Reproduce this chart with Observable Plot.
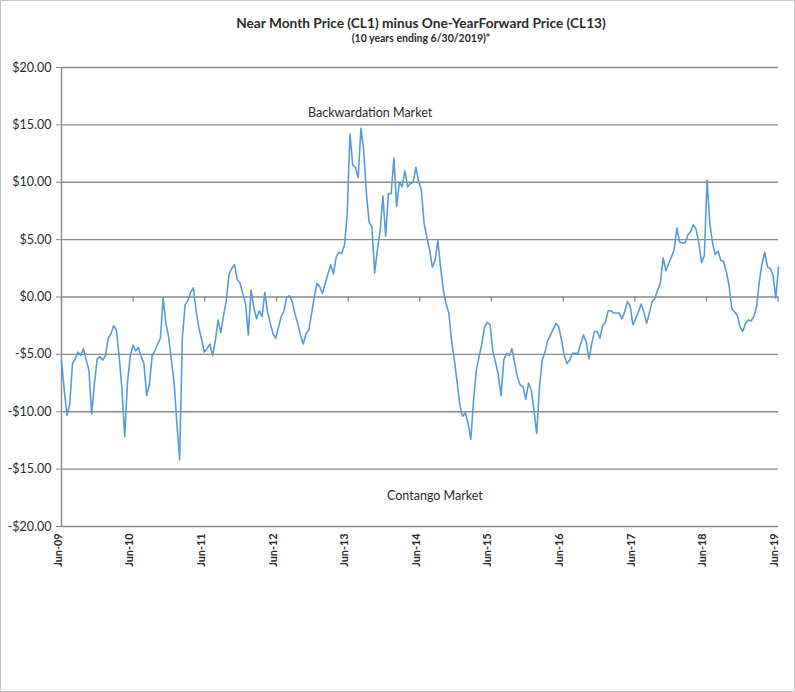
<!DOCTYPE html>
<html>
<head>
<meta charset="utf-8">
<script src="https://cdn.jsdelivr.net/npm/d3@7"></script>
<script src="https://cdn.jsdelivr.net/npm/@observablehq/plot@0.6"></script>
<style>
  body { margin: 0; background: #fff; }
  #frame { position: relative; width: 795px; height: 692px; box-sizing: border-box; border: 1px solid #c4c4c4; background: #fff; font-family: Lato, "Liberation Sans", sans-serif; color: #2b2b2b; }
  #title { position: absolute; left: 420px; top: 13px; transform: translateX(-50%); white-space: nowrap; font-weight: bold; font-size: 13.7px; }
  #subtitle { position: absolute; left: 420px; top: 31px; transform: translateX(-50%); white-space: nowrap; font-weight: bold; font-size: 10.5px; }
  #chart { position: absolute; left: 0; top: 56px; }
</style>
</head>
<body>
<div id="frame">
  <div id="title">Near Month Price (CL1) minus One-YearForward Price (CL13)</div>
  <div id="subtitle">(10 years ending 6/30/2019)*</div>
  <div id="chart"></div>
</div>
<script>
// ---- data ----
const startDate = "2009-06-30";   // first observation
const stepDays = 14;              // one reading every two weeks
const spread = [
  -5.5, -8.1, -10.3, -9.3, -5.8, -5.4, -4.8, -5.1, -4.5, -5.5,
  -6.4, -10.2, -7.5, -5.4, -5.2, -5.5, -5.1, -3.6, -3.2, -2.5,
  -2.9, -5.2, -8.0, -12.2, -7.5, -5.2, -4.2, -4.7, -4.4, -5.2,
  -5.8, -8.6, -7.6, -5.1, -4.7, -4.1, -3.6, -0.1, -2.3, -3.5,
  -5.5, -7.5, -11.0, -14.2, -3.5, -0.7, -0.3, 0.4, 0.8, -1.2,
  -2.7, -3.7, -4.8, -4.5, -4.1, -5.1, -3.8, -2.0, -3.1, -1.6,
  -0.3, 2.0, 2.5, 2.8, 1.5, 1.2, 0.3, -0.6, -3.3, 0.6,
  -0.9, -1.9, -1.2, -1.7, 0.4, -1.3, -2.3, -3.2, -3.6, -2.6,
  -1.7, -1.2, 0.0, 0.1, -0.4, -1.5, -2.3, -3.3, -4.1, -3.2,
  -2.9, -1.5, 0.0, 1.2, 0.9, 0.3, 1.2, 2.0, 2.8, 2.0,
  3.5, 3.9, 3.8, 4.5, 7.2, 14.2, 11.5, 11.3, 10.4, 14.7,
  12.8, 9.0, 6.5, 6.1, 2.1, 4.1, 5.8, 8.8, 5.3, 9.0,
  9.0, 12.1, 7.9, 10.0, 9.6, 11.0, 9.6, 9.9, 10.0, 11.3,
  10.1, 9.3, 6.4, 5.2, 4.1, 2.6, 3.2, 4.9, 2.6, 0.6,
  -0.6, -1.4, -3.8, -5.5, -7.4, -9.4, -10.4, -10.1, -11.0, -12.4,
  -9.0, -6.4, -5.2, -4.1, -2.6, -2.2, -2.4, -4.7, -5.7, -6.8,
  -8.6, -5.5, -4.9, -5.1, -4.5, -5.8, -7.0, -7.7, -7.8, -8.9,
  -7.5, -8.1, -9.9, -11.9, -7.8, -5.5, -4.8, -3.8, -3.3, -2.8,
  -2.3, -2.6, -3.7, -5.1, -5.8, -5.5, -4.9, -4.9, -4.9, -4.1,
  -3.3, -3.9, -5.4, -4.1, -3.0, -3.0, -3.6, -2.5, -2.2, -1.2,
  -1.2, -1.4, -1.4, -1.4, -1.9, -1.3, -0.4, -0.8, -2.4, -1.9,
  -1.3, -0.6, -1.3, -2.3, -1.4, -0.4, -0.1, 0.6, 1.2, 3.4,
  2.3, 2.9, 3.5, 4.1, 6.0, 4.8, 4.7, 4.7, 5.4, 5.7,
  6.3, 5.9, 4.7, 3.0, 3.6, 10.2, 6.4, 4.7, 3.7, 4.0,
  3.2, 3.1, 2.2, 1.0, -1.0, -1.3, -1.6, -2.6, -3.0, -2.3,
  -2.0, -2.1, -1.7, -0.9, 1.3, 2.9, 3.9, 2.6, 2.5, 1.9,
  -0.1, 2.6
];
const yTicks = [20, 15, 10, 5, 0, -5, -10, -15, -20];
const xTickDates = ["2009-06-30","2010-06-30","2011-06-30","2012-06-30","2013-06-30","2014-06-30",
                    "2015-06-30","2016-06-30","2017-06-30","2018-06-30","2019-06-30"];
const xTickLabels = ["Jun-09","Jun-10","Jun-11","Jun-12","Jun-13","Jun-14",
                     "Jun-15","Jun-16","Jun-17","Jun-18","Jun-19"];
const noteLabels = ["Backwardation Market", "Contango Market"];
const noteDates = ["2013-10-20", "2014-09-15"];
const noteValues = [16.0, -17.3];

// ---- tables built from the arrays ----
const parse = d3.utcParse("%Y-%m-%d");
const t0 = parse(startDate);
const series = spread.map((v, i) => ({date: d3.utcDay.offset(t0, i * stepDays), value: v}));
const ticks = xTickDates.map((d, i) => ({date: parse(d), label: xTickLabels[i]}));
const notes = noteLabels.map((l, i) => ({label: l, date: parse(noteDates[i]), value: noteValues[i]}));
const fmtMoney = d => (d < 0 ? "-$" : "$") + Math.abs(d).toFixed(2);

const grid = "#8a8a8a";
const tickShape = { draw(ctx, l) { ctx.moveTo(0, 0); ctx.lineTo(0, -l); } };

const chart = Plot.plot({
  width: 793,
  height: 634,
  marginTop: 10,
  marginBottom: 165,
  marginLeft: 60,
  marginRight: 16,
  x: {type: "utc", domain: [t0, series[series.length - 1].date], axis: null},
  y: {domain: [-20, 20], axis: null},
  style: {fontFamily: "Lato, 'Liberation Sans', sans-serif", color: "#2b2b2b", background: "transparent"},
  marks: [
    Plot.ruleY(yTicks, {stroke: grid, strokeWidth: 1.4}),
    Plot.ruleX([t0], {stroke: grid, strokeWidth: 1.4}),
    Plot.axisY({ticks: yTicks, tickFormat: fmtMoney, label: null, tickSize: 5, tickPadding: 5, fontSize: 12.5, stroke: grid, fill: "#2b2b2b"}),
    Plot.vector(ticks, {x: "date", y: () => 0, length: 4, rotate: 180, anchor: "start", shape: tickShape, stroke: grid, strokeWidth: 1.3}),
    Plot.text(ticks, {x: "date", frameAnchor: "bottom", text: "label", rotate: -90, textAnchor: "end", dy: 7, fontWeight: "bold", fontSize: 10.8, fill: "#2b2b2b"}),
    Plot.line(series, {x: "date", y: "value", stroke: "#5b9bd5", strokeWidth: 1.6, strokeLinejoin: "round"}),
    Plot.text(notes, {x: "date", y: "value", text: "label", fontSize: 12.5, fill: "#2b2b2b"})
  ]
});
document.getElementById("chart").appendChild(chart);
</script>
</body>
</html>
